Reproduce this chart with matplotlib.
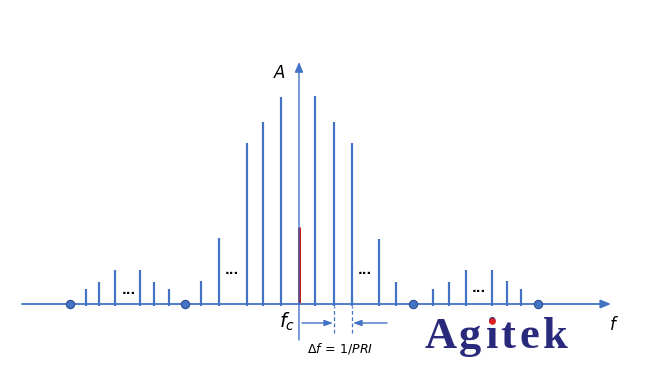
import matplotlib
matplotlib.use("Agg")
import matplotlib.pyplot as plt

# ---- data (frequency offset from fc, amplitude) ----
main_freqs = [-98, -80, -52, -36, -18, 16, 35, 53, 80, 97]
main_amps = [23, 66, 161, 182, 207, 208, 182, 161, 65, 22]
carrier_freq = [0]
carrier_amp = [77]
left_side_freqs = [-213, -200, -184, -159, -145, -130]
left_side_amps = [15, 22, 34, 34, 22, 15]
right_side_freqs = [134, 150, 167, 193, 208, 222]
right_side_amps = [15, 22, 34, 34, 23, 15]
null_freqs = [-229, -114, 114, 239]
ellipsis_pos = [(-170, 13), (-67, 34), (66, 34), (180, 16)]

logo_letters = ["A", "g", "i", "t", "e", "k"]
logo_x = [142, 171, 193, 209, 230, 256]

BLUE = "#4472C4"
RED = "#C00000"

fig = plt.figure(figsize=(6.46, 3.81), dpi=100)
ax = fig.add_axes([0, 0, 1, 1])
ax.set_xlim(-299, 347)
ax.set_ylim(-77, 304)
ax.axis("off")

# axes with arrows
ax.annotate("", xy=(312, 0), xytext=(-277, 0),
            arrowprops=dict(arrowstyle="-|>,head_length=0.6,head_width=0.25",
                            color=BLUE, lw=1.3, shrinkA=0, shrinkB=0))
ax.annotate("", xy=(0, 242), xytext=(0, -36),
            arrowprops=dict(arrowstyle="-|>,head_length=0.6,head_width=0.25",
                            color=BLUE, lw=1.0, shrinkA=0, shrinkB=0))

# spectral lines
ax.vlines(main_freqs, -2, main_amps, color=BLUE, lw=1.6)
ax.vlines(left_side_freqs, -2, left_side_amps, color=BLUE, lw=1.6)
ax.vlines(right_side_freqs, -2, right_side_amps, color=BLUE, lw=1.6)
ax.vlines(carrier_freq, 0, carrier_amp, color=RED, lw=2.0)

# nulls
ax.plot(null_freqs, [0] * len(null_freqs), "o", ms=6, color=BLUE,
        mec="#2F528F", mew=0.8, zorder=5)

for x, y in ellipsis_pos:
    ax.text(x, y, "...", ha="center", va="center", fontsize=9,
            fontweight="bold", color="black")

# labels
ax.text(-19, 231, "A", fontsize=12, style="italic", ha="center", va="center",
        family="DejaVu Sans")
ax.text(-12, -18, r"$f_c$", fontsize=14, ha="center", va="center")
ax.text(314, -21, "f", fontsize=12, style="italic", ha="center", va="center",
        family="DejaVu Sans")
ax.text(41, -44, r"$\Delta f\,=\,1/PRI$", fontsize=9, ha="center", va="center")

# delta-f markers
ax.vlines([35, 53], -29, -2, color=BLUE, lw=0.9, linestyles=(0, (3, 2)))
ax.annotate("", xy=(34, -19), xytext=(3, -19),
            arrowprops=dict(arrowstyle="-|>,head_length=0.5,head_width=0.18",
                            color=BLUE, lw=1.0, shrinkA=0, shrinkB=0))
ax.annotate("", xy=(54, -19), xytext=(88, -19),
            arrowprops=dict(arrowstyle="-|>,head_length=0.5,head_width=0.18",
                            color=BLUE, lw=1.0, shrinkA=0, shrinkB=0))

# logo
for ch, x in zip(logo_letters, logo_x):
    ax.text(x, -44, ch, fontsize=32, fontweight="bold",
            family="Liberation Serif", color="#2A2A7C", ha="center",
            va="baseline")
ax.plot([193], [-17], "o", ms=4.8, color="#E02020", mew=0, zorder=6)

fig.savefig("out.png", dpi=100)
